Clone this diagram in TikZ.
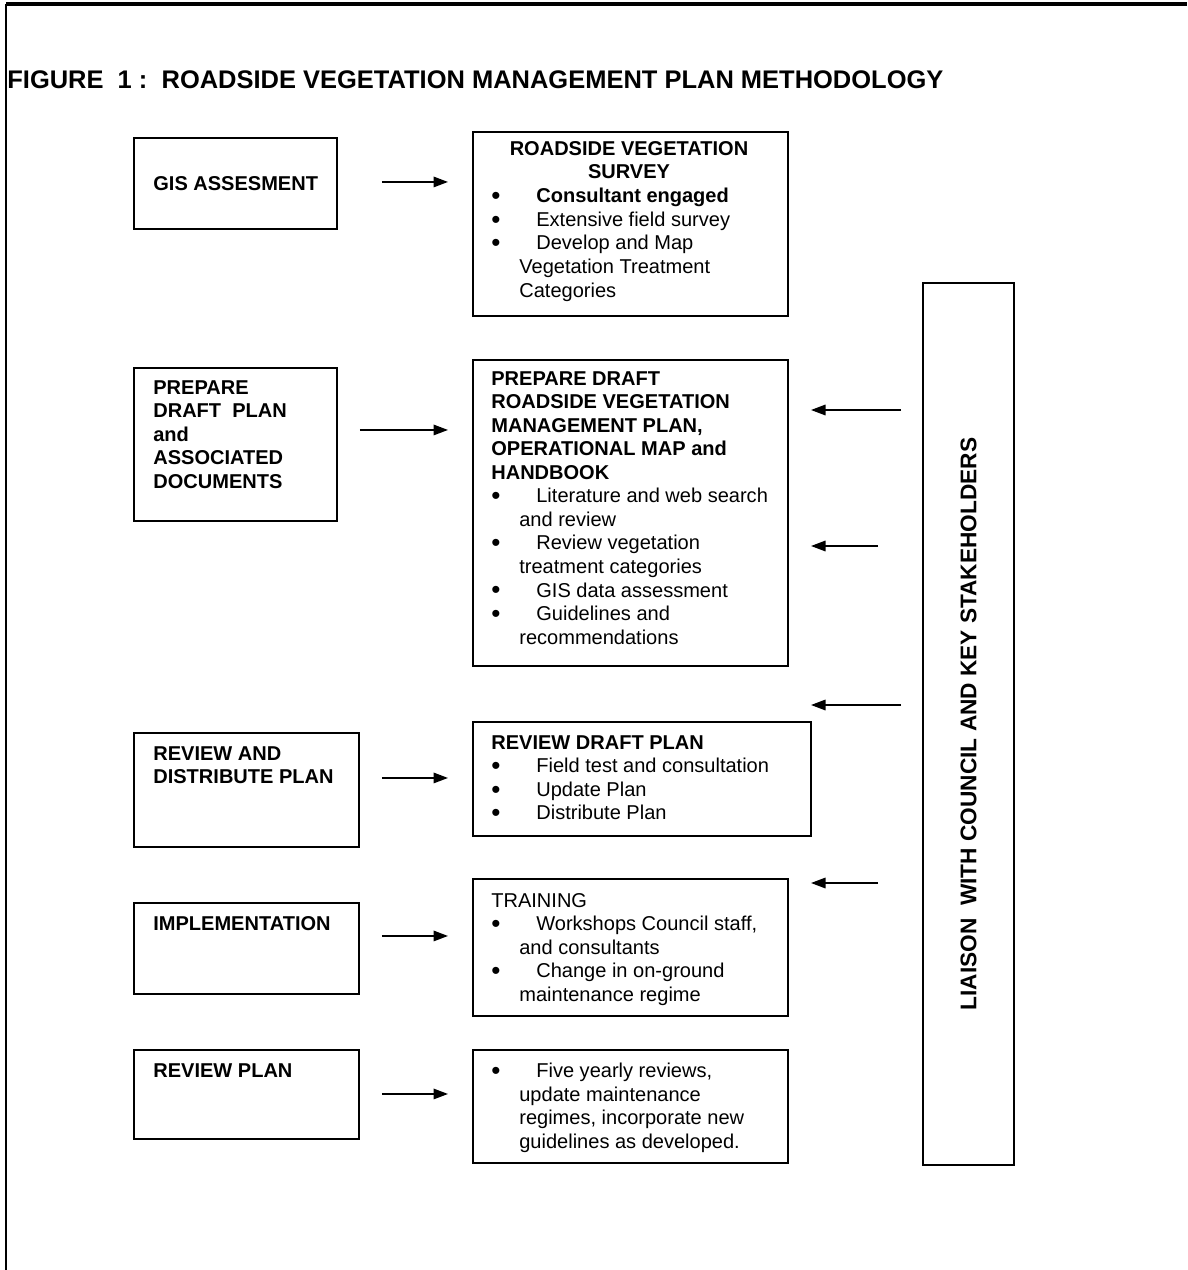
\documentclass[tikz,border=0pt]{standalone}
\usepackage{fontspec}
\setmainfont{Liberation Sans}
\usetikzlibrary{arrows.meta,positioning}
\newdimen\pxu \pxu=0.02cm
\newcommand{\bul}{\makebox[45\pxu][l]{\smash{\raisebox{-0.09em}{\scalebox{1.3}{\textbullet}}}}}
\newcommand{\cont}{\hspace*{28\pxu}}

\begin{document}
\begin{tikzpicture}[x=0.02cm,y=-0.02cm,
  stage/.style={draw, line width=1.1pt, anchor=north west, inner sep=0pt},
  boxtext/.style={anchor=north west, inner sep=0pt, align=left,
    font=\fontsize{11.4}{13.4}\selectfont},
  boxhead/.style={boxtext, font=\bfseries\fontsize{11.4}{13.4}\selectfont},
  flow/.style={line width=0.95pt, -{Triangle[length=0.29cm,width=0.21cm]}}]
  \useasboundingbox (0,0) rectangle (1187,1270);
  \draw[line width=2.3pt] (6,4) -- (1187,4);
  \draw[line width=0.9pt] (6,4) -- (6,1270);

  \node[anchor=west, inner sep=0pt, font=\bfseries\fontsize{14.5}{17}\selectfont]
    (title) at (7,80) {FIGURE\ \ 1 :\ \ ROADSIDE VEGETATION MANAGEMENT PLAN METHODOLOGY};

  \foreach \n/\x/\y/\w/\h in {gis/133/137/203/91, prep/133/367/203/153,
      rev/133/732/225/114, impl/133/902/225/91, revp/133/1049/225/89,
      survey/472/131/315/184, draft/472/359/315/306, revd/472/721/338/114,
      train/472/878/315/137, five/472/1049/315/113, liaison/922/282/91/882}
    \node[stage, minimum width=\w\pxu, minimum height=\h\pxu] (\n) at (\x,\y) {};

  \node[boxhead] (gis-t) at (153,176) {GIS ASSESMENT};
  \node[boxhead] (prep-t) at (153,380)
    {PREPARE\\DRAFT\ \ PLAN\\and\\ASSOCIATED\\DOCUMENTS};
  \node[boxhead] (rev-t) at (153,746) {REVIEW AND\\DISTRIBUTE PLAN};
  \node[boxhead] (impl-t) at (153,916) {IMPLEMENTATION};
  \node[boxhead] (revp-t) at (153,1063) {REVIEW PLAN};

  \node[boxhead, anchor=north, align=center] (survey-h) at (629,141)
    {ROADSIDE VEGETATION\\SURVEY};
  \node[boxtext] (survey-t) at (491,188)
    {\bul\textbf{Consultant engaged}\\\bul Extensive field survey\\
     \bul Develop and Map\\\cont Vegetation Treatment\\\cont Categories};
  \node[boxtext] (draft-t) at (491,371)
    {\textbf{PREPARE DRAFT}\\\textbf{ROADSIDE VEGETATION}\\
     \textbf{MANAGEMENT PLAN,}\\\textbf{OPERATIONAL MAP and}\\\textbf{HANDBOOK}\\
     \bul Literature and web search\\\cont and review\\
     \bul Review vegetation\\\cont treatment categories\\
     \bul GIS data assessment\\
     \bul Guidelines and\\\cont recommendations};
  \node[boxtext] (revd-t) at (491,735)
    {\textbf{REVIEW DRAFT PLAN}\\\bul Field test and consultation\\
     \bul Update Plan\\\bul Distribute Plan};
  \node[boxtext] (train-t) at (491,893)
    {TRAINING\\\bul Workshops Council staff,\\\cont and consultants\\
     \bul Change in on-ground\\\cont maintenance regime};
  \node[boxtext] (five-t) at (491,1063)
    {\bul Five yearly reviews,\\\cont update maintenance\\
     \cont regimes, incorporate new\\\cont guidelines as developed.};

  \node[rotate=90, inner sep=0pt, font=\bfseries\fontsize{12.9}{15}\selectfont]
    (liaison-t) at (liaison.center) {LIAISON\ \ WITH COUNCIL AND KEY STAKEHOLDERS};

  \foreach \a/\b/\s/\d in {gis/survey/44/1.5, prep/draft/22/14.5,
      rev/revd/22/12, impl/train/22/12.5, revp/five/22/0.5}
    \draw[flow, shorten <=\s\pxu, shorten >=24\pxu]
      ([yshift=\d\pxu]\a.east) -- ([yshift=\d\pxu]\a.east -| \b.west);

  \foreach \i/\y/\s in {1/410/21, 2/546/44, 3/705/21, 4/883/44} {
    \coordinate (in\i) at (811,\y);
    \draw[flow, shorten <=\s\pxu] (liaison.west |- in\i) -- (in\i);
  }
\end{tikzpicture}
\end{document}
